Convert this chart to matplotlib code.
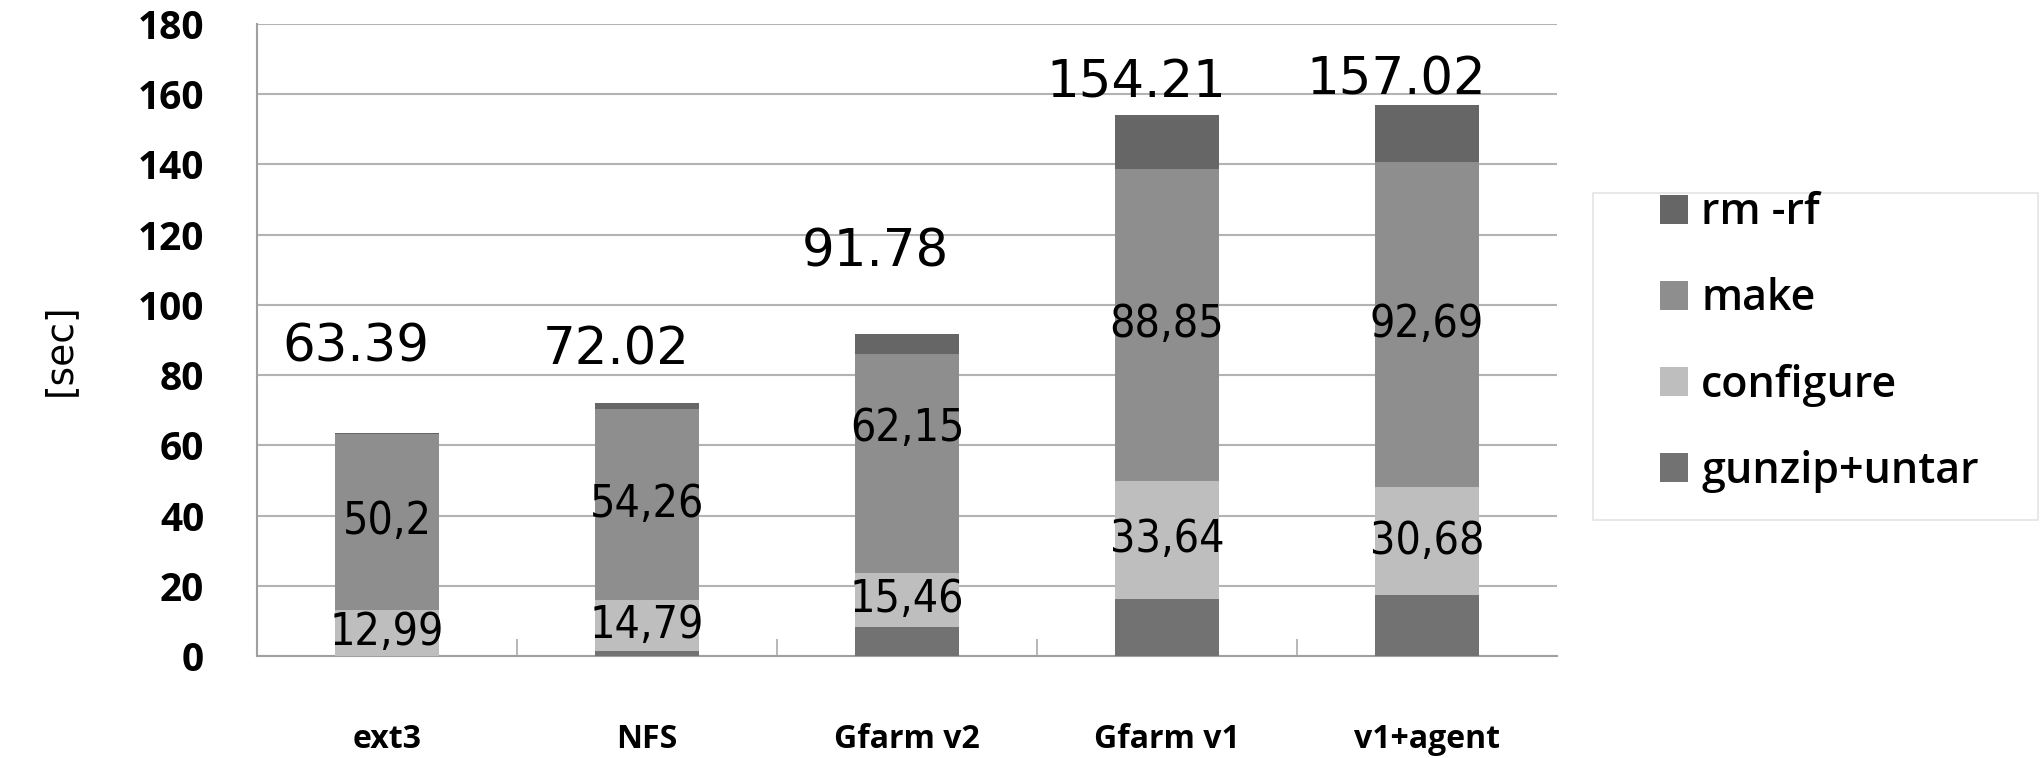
import numpy as np
import matplotlib
matplotlib.use("Agg")
from matplotlib import pyplot as plt
from matplotlib.patches import Rectangle

# values (seconds)
systems = ["ext3", "NFS", "Gfarm v2", "Gfarm v1", "v1+agent"]
gunzip_untar = [0.1, 1.3, 8.3, 16.3, 17.4]
configure = [12.99, 14.79, 15.46, 33.64, 30.68]
make = [50.2, 54.26, 62.15, 88.85, 92.69]
rm_rf = [0.1, 1.67, 5.87, 15.42, 16.25]
totals = [63.39, 72.02, 91.78, 154.21, 157.02]

# where the labels sit (layout, not data)
total_label_y = [88, 87, 115, 163, 164]
make_label_nudge = [0, 0, 10, 0, 0]

colors = {"gunzip+untar": "#727272", "configure": "#bebebe",
          "make": "#8e8e8e", "rm -rf": "#666666"}
tick_font = dict(family="Open Sans", weight="bold")
legend_font = dict(family="Open Sans", weight="semibold")

fig = plt.figure(figsize=(20.42, 7.58), dpi=100)
ax = fig.add_axes([257 / 2042, 1 - 656 / 758, 1300 / 2042, 632 / 758])

x = np.arange(len(systems))
w = 0.40
bottom = np.zeros(len(systems))
handles = {}
for name, vals in [("gunzip+untar", gunzip_untar), ("configure", configure),
                   ("make", make), ("rm -rf", rm_rf)]:
    vals = np.array(vals)
    handles[name] = ax.bar(x, vals, w, bottom=bottom, color=colors[name],
                           zorder=3)
    if name in ("configure", "make"):
        nudge = make_label_nudge if name == "make" else [0] * len(x)
        for xi, b, v, n in zip(x, bottom, vals, nudge):
            ax.text(xi, b + v / 2 + n, f"{v:g}".replace(".", ","),
                    ha="center", va="center", fontsize=32,
                    family="DejaVu Sans", fontstretch="condensed", zorder=4)
    bottom += vals

for xi, t, ly in zip(x, totals, total_label_y):
    ax.text(xi - 0.12, ly, f"{t:.2f}", ha="center", va="center",
            fontsize=37, zorder=4)

ax.set_xlim(-0.5, 4.5)
ax.set_ylim(0, 180)
ax.set_yticks(np.arange(0, 181, 20))
ax.set_yticklabels([str(v) for v in range(0, 181, 20)], fontsize=28,
                   **tick_font)
ax.set_xticks(x)
ax.set_xticklabels(systems, fontsize=23, **tick_font)
ax.set_xticks(np.arange(0.5, 4.5, 1), minor=True)
ax.tick_params(axis="x", which="major", length=0, pad=48)
ax.tick_params(axis="x", which="minor", direction="in", length=12,
               color="#aaaaaa", width=1.2)
ax.tick_params(axis="y", length=0, pad=38)
ax.grid(axis="y", color="#b3b3b3", linewidth=1.5, zorder=0)
for s in ["top", "right"]:
    ax.spines[s].set_visible(False)
for s in ["left", "bottom"]:
    ax.spines[s].set_color("#a0a0a0")
    ax.spines[s].set_linewidth(1.5)
ax.set_ylabel("[sec]", fontsize=27)
ax.yaxis.set_label_coords(-0.138, 0.485)

# legend frame drawn by hand so it reaches the right edge
fig.patches.append(Rectangle((1593 / 2042, 1 - 520 / 758),
                             (2038 - 1593) / 2042, (520 - 193) / 758,
                             transform=fig.transFigure, facecolor="white",
                             edgecolor="#e4e4e4", linewidth=1.2, zorder=0))
order = ["rm -rf", "make", "configure", "gunzip+untar"]
fig.legend([handles[k] for k in order], order, loc="center left",
           bbox_to_anchor=(1660 / 2042, 1 - 342 / 758),
           prop=dict(size=31, **legend_font),
           frameon=False, labelspacing=1.0, handlelength=0.66,
           handleheight=0.66, handletextpad=0.3, borderpad=0,
           borderaxespad=0)

fig.savefig("out.png", dpi=100, facecolor="white")
